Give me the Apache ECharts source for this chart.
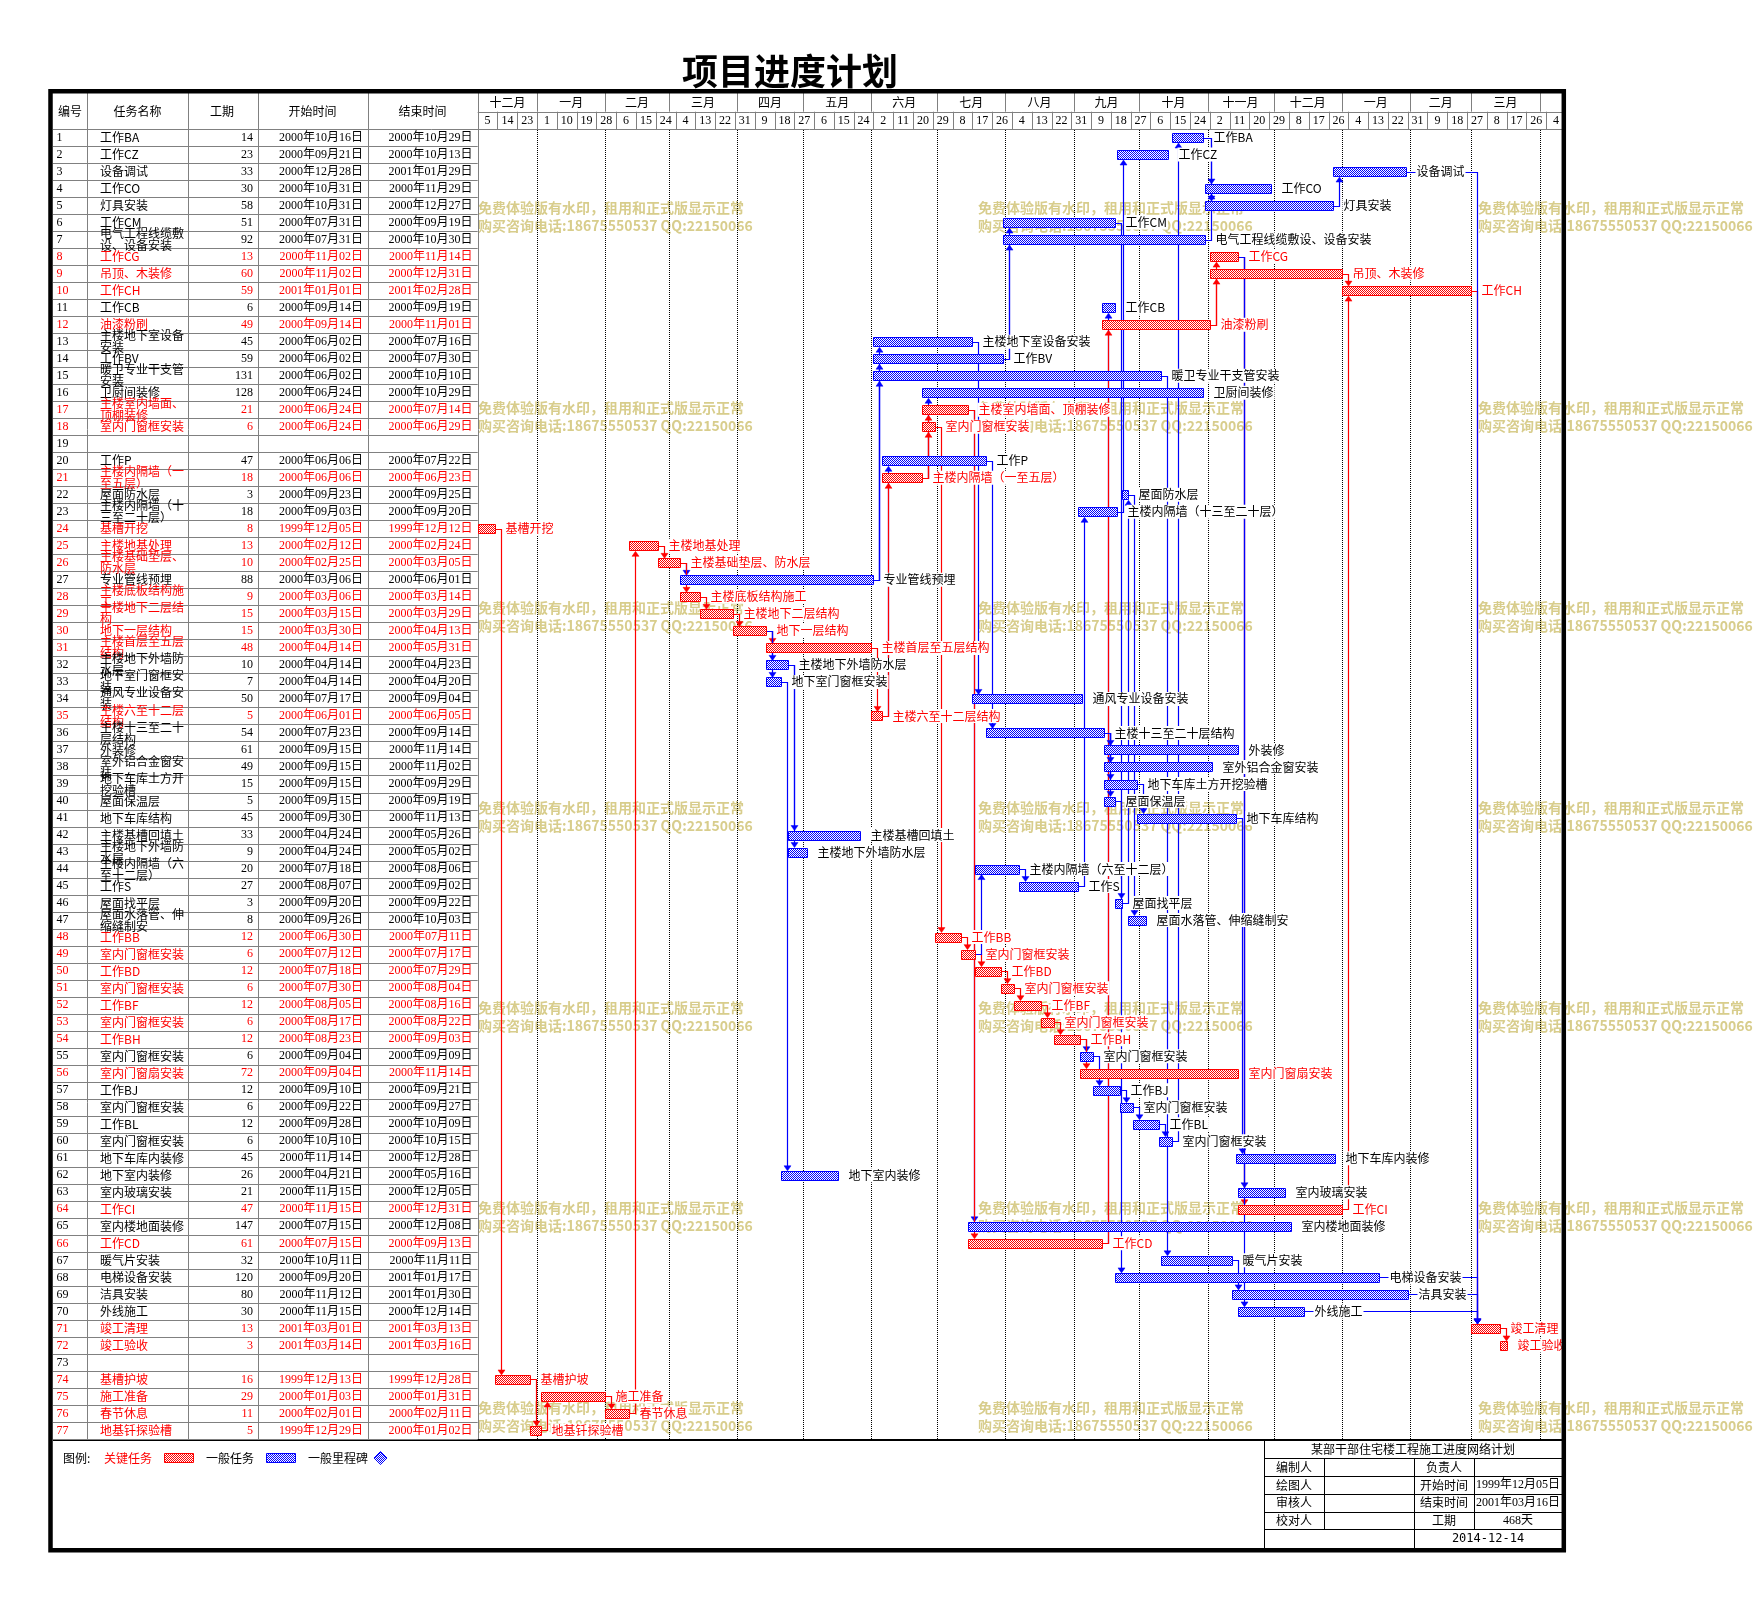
<!DOCTYPE html>
<html><head><meta charset="utf-8">
<script src="https://cdn.jsdelivr.net/npm/echarts@6/dist/echarts.min.js"></script>
<style>html,body{margin:0;padding:0;background:#fff}#c{width:1761px;height:1600px}</style>
</head><body><div id="c"></div>
<script>
// ---------------- DATA ----------------
const ids = Array.from({length:77},(_,i)=>i+1);
const names = ['工作BA','工作CZ','设备调试','工作CO','灯具安装','工作CM','电气工程线缆敷设、设备安装','工作CG','吊顶、木装修','工作CH',
'工作CB','油漆粉刷','主楼地下室设备安装','工作BV','暖卫专业干支管安装','卫厨间装修','主楼室内墙面、顶棚装修','室内门窗框安装','','工作P',
'主楼内隔墙（一至五层）','屋面防水层','主楼内隔墙（十三至二十层）','基槽开挖','主楼地基处理','主楼基础垫层、防水层','专业管线预埋','主楼底板结构施工','主楼地下二层结构','地下一层结构',
'主楼首层至五层结构','主楼地下外墙防水层','地下室门窗框安装','通风专业设备安装','主楼六至十二层结构','主楼十三至二十层结构','外装修','室外铝合金窗安装','地下车库土方开挖验槽','屋面保温层',
'地下车库结构','主楼基槽回填土','主楼地下外墙防水层','主楼内隔墙（六至十二层）','工作S','屋面找平层','屋面水落管、伸缩缝制安','工作BB','室内门窗框安装','工作BD',
'室内门窗框安装','工作BF','室内门窗框安装','工作BH','室内门窗框安装','室内门窗扇安装','工作BJ','室内门窗框安装','工作BL','室内门窗框安装',
'地下车库内装修','地下室内装修','室内玻璃安装','工作CI','室内楼地面装修','工作CD','暖气片安装','电梯设备安装','洁具安装','外线施工',
'竣工清理','竣工验收','','基槽护坡','施工准备','春节休息','地基钎探验槽'];
const durations = [14,23,33,30,58,51,92,13,60,59, 6,49,45,59,131,128,21,6,null,47, 18,3,18,8,13,10,88,9,15,15,
 48,10,7,50,5,54,61,49,15,5, 45,33,9,20,27,3,8,12,6,12, 6,12,6,12,6,72,12,6,12,6, 45,26,21,47,147,61,32,120,80,30, 13,3,null,16,29,11,5];
const starts = ['2000-10-16','2000-09-21','2000-12-28','2000-10-31','2000-10-31','2000-07-31','2000-07-31','2000-11-02','2000-11-02','2001-01-01',
'2000-09-14','2000-09-14','2000-06-02','2000-06-02','2000-06-02','2000-06-24','2000-06-24','2000-06-24',null,'2000-06-06',
'2000-06-06','2000-09-23','2000-09-03','1999-12-05','2000-02-12','2000-02-25','2000-03-06','2000-03-06','2000-03-15','2000-03-30',
'2000-04-14','2000-04-14','2000-04-14','2000-07-17','2000-06-01','2000-07-23','2000-09-15','2000-09-15','2000-09-15','2000-09-15',
'2000-09-30','2000-04-24','2000-04-24','2000-07-18','2000-08-07','2000-09-20','2000-09-26','2000-06-30','2000-07-12','2000-07-18',
'2000-07-30','2000-08-05','2000-08-17','2000-08-23','2000-09-04','2000-09-04','2000-09-10','2000-09-22','2000-09-28','2000-10-10',
'2000-11-14','2000-04-21','2000-11-15','2000-11-15','2000-07-15','2000-07-15','2000-10-11','2000-09-20','2000-11-12','2000-11-15',
'2001-03-01','2001-03-14',null,'1999-12-13','2000-01-03','2000-02-01','1999-12-29'];
const ends = ['2000-10-29','2000-10-13','2001-01-29','2000-11-29','2000-12-27','2000-09-19','2000-10-30','2000-11-14','2000-12-31','2001-02-28',
'2000-09-19','2000-11-01','2000-07-16','2000-07-30','2000-10-10','2000-10-29','2000-07-14','2000-06-29',null,'2000-07-22',
'2000-06-23','2000-09-25','2000-09-20','1999-12-12','2000-02-24','2000-03-05','2000-06-01','2000-03-14','2000-03-29','2000-04-13',
'2000-05-31','2000-04-23','2000-04-20','2000-09-04','2000-06-05','2000-09-14','2000-11-14','2000-11-02','2000-09-29','2000-09-19',
'2000-11-13','2000-05-26','2000-05-02','2000-08-06','2000-09-02','2000-09-22','2000-10-03','2000-07-11','2000-07-17','2000-07-29',
'2000-08-04','2000-08-16','2000-08-22','2000-09-03','2000-09-09','2000-11-14','2000-09-21','2000-09-27','2000-10-09','2000-10-15',
'2000-12-28','2000-05-16','2000-12-05','2000-12-31','2000-12-08','2000-09-13','2000-11-11','2001-01-17','2001-01-30','2000-12-14',
'2001-03-13','2001-03-16',null,'1999-12-28','2000-01-31','2000-02-11','2000-01-02'];
const criticalRows = [8,9,10,12,17,18,21,24,25,26,28,29,30,31,35,48,49,50,51,52,53,54,56,64,66,71,72,74,75,76,77];
const links = [[24,74],[74,77],[77,75],[75,76],[76,25],[25,26],[26,27],[26,28],[28,29],[29,30],[30,31],[30,32],[30,33],
[32,42],[32,43],[33,62],[31,35],[27,13],[27,14],[27,15],[35,20],[35,21],[21,16],[21,17],[21,18],[18,48],[48,49],[17,65],[17,66],
[13,34],[49,50],[49,44],[20,36],[14,6],[14,7],[50,51],[51,52],[44,45],[52,53],[53,54],[45,23],[54,55],[54,56],[55,57],[66,11],[66,12],
[36,37],[36,38],[36,39],[36,40],[40,46],[57,58],[46,22],[22,47],[58,59],[39,41],[59,60],[15,67],[60,1],[23,2],[6,68],[1,4],[1,5],[7,4],
[12,8],[12,9],[8,63],[8,64],[8,70],[67,69],[41,61],[5,3],[9,10],[64,10],[10,71],[71,72],[3,71],[68,71],[69,71],[70,71]];
const monthNames = ['一月','二月','三月','四月','五月','六月','七月','八月','九月','十月','十一月','十二月'];
const axisStart = '1999-12-05', axisEnd = '2001-04-13';
const tableHeaders = ['编号','任务名称','工期','开始时间','结束时间'];
const legendTexts = ['图例:','关键任务','一般任务','一般里程碑'];
const blockTitle = '某部干部住宅楼工程施工进度网络计划';
const blockLeftLabels = ['编制人','绘图人','审核人','校对人'];
const blockRightLabels = ['负责人','开始时间','结束时间','工期'];
const blockRightValues = ['','1999年12月05日','2001年03月16日','468天'];
const blockDate = '2014-12-14';
const watermarkLines = ['免费体验版有水印，租用和正式版显示正常','购买咨询电话:18675550537 QQ:22150066'];

// ---------------- HELPERS ----------------
const DAY0 = Date.UTC(2000,0,1);
function dayOf(s){const [y,m,d]=s.split('-').map(Number);return (Date.UTC(y,m-1,d)-DAY0)/86400000;}
function fmtDate(s){const [y,m,d]=s.split('-');return y+'年'+m+'月'+d+'日';}
const xMin = dayOf(axisStart), xMax = dayOf(axisEnd);
const isCrit = i => criticalRows.indexOf(i+1) >= 0;
const F = '12px "Liberation Serif","Noto Sans CJK SC",serif';
const FC = '12px "Noto Sans CJK SC",sans-serif';
const RED='#ff0000', BLUE='#0000ff', GRAY='#808080';
function makePat(color){const c=document.createElement('canvas');c.width=2;c.height=2;const g=c.getContext('2d');
 g.fillStyle='#fff';g.fillRect(0,0,2,2);g.fillStyle=color;g.fillRect(0,0,1,1);g.fillRect(1,1,1,1);return {type:'pattern',image:c,repeat:'repeat'};}
const redPat = makePat(RED), bluePat = makePat(BLUE);
const h = v => Math.round(v)+0.5;

// layout
const GL=477.7, GT=129, GW=1088.3, GH=1310, GB=GT+GH;
const TL=53, colX=[87.3,187.7,257.7,367.7];
const Y_MONTH_TOP=93, Y_MONTH_BOT=111.7;

// months
const months=[];
for(let y=1999,m=12;;){const s=dayOf(y+'-'+String(m).padStart(2,'0')+'-01');
 let ny=m===12?y+1:y, nm=m===12?1:m+1; const e=dayOf(ny+'-'+String(nm).padStart(2,'0')+'-01');
 if(s>=xMax)break; months.push([Math.max(s,xMin),0,Math.min(e,xMax),m-1,s]); y=ny;m=nm;}
const ticks=[]; for(let t=xMin;t<xMax;t+=9){ticks.push([t,0]);}
const tickLabel = t => new Date(DAY0+t*86400000).getUTCDate();

// bars
const barData=[]; starts.forEach((s,i)=>{if(s)barData.push([dayOf(s),i,dayOf(ends[i])+1]);});
const linkData = links.map(([a,b])=>[dayOf(ends[a-1])+1,a-1,dayOf(starts[b-1]),b-1]);

// ---------------- RENDERERS ----------------
function renderTable(params, api){
  const i=api.value(1); const yc=api.coord([xMin,i])[1]; const bh=api.size([0,1])[1];
  const col=isCrit(i)?RED:'#000'; const ch=[];
  ch.push({type:'line',shape:{x1:TL,y1:h(yc+bh/2),x2:GL,y2:h(yc+bh/2)},style:{stroke:GRAY,lineWidth:1}});
  ch.push({type:'text',style:{text:String(ids[i]),x:56.5,y:yc,align:'left',verticalAlign:'middle',fill:col,font:F}});
  if(names[i]) ch.push({type:'text',style:{text:names[i],x:100,y:yc,width:88,overflow:'break',lineHeight:12,align:'left',verticalAlign:'middle',fill:col,font:FC}});
  if(durations[i]!=null) ch.push({type:'text',style:{text:String(durations[i]),x:253,y:yc,align:'right',verticalAlign:'middle',fill:col,font:F}});
  if(starts[i]) ch.push({type:'text',style:{text:fmtDate(starts[i]),x:363,y:yc,align:'right',verticalAlign:'middle',fill:col,font:F}});
  if(ends[i]) ch.push({type:'text',style:{text:fmtDate(ends[i]),x:472.5,y:yc,align:'right',verticalAlign:'middle',fill:col,font:F}});
  return {type:'group',children:ch};
}
function renderMonth(params, api){
  const s=api.value(0), e=api.value(2), mi=api.value(3), real=api.value(4);
  const xs=api.coord([s,0])[0], xe=api.coord([e,0])[0]; const ch=[];
  if(real>=xMin && s>xMin){
    ch.push({type:'line',shape:{x1:h(xs),y1:Y_MONTH_TOP,x2:h(xs),y2:Y_MONTH_BOT},style:{stroke:GRAY,lineWidth:1}});
    ch.push({type:'line',shape:{x1:h(xs),y1:GT+1,x2:h(xs),y2:GB},style:{stroke:'#000',lineWidth:1,lineDash:[1,1]}});
  }
  if(xe-xs>30) ch.push({type:'text',style:{text:monthNames[mi],x:(xs+xe)/2,y:(Y_MONTH_TOP+Y_MONTH_BOT)/2+0.5,align:'center',verticalAlign:'middle',fill:'#000',font:FC}});
  return {type:'group',children:ch};
}
function renderTick(params, api){
  const t=api.value(0); const x=api.coord([t,0])[0]; const xc=api.coord([Math.min(t+4.5,xMax),0])[0]; const ch=[];
  if(t>xMin) ch.push({type:'line',shape:{x1:h(x),y1:Y_MONTH_BOT,x2:h(x),y2:GT},style:{stroke:GRAY,lineWidth:1}});
  ch.push({type:'text',style:{text:String(tickLabel(t)),x:xc,y:(Y_MONTH_BOT+GT)/2+0.5,align:'center',verticalAlign:'middle',fill:'#000',font:F}});
  return {type:'group',children:ch};
}
function renderBar(params, api){
  const s=api.value(0), i=api.value(1), e=api.value(2);
  const p0=api.coord([s,i]), p1=api.coord([e,i]); const crit=isCrit(i); const y=p0[1];
  const x0=h(p0[0]), x1=h(p1[0]);
  return {type:'group',children:[
    {type:'rect',z2:5,shape:{x:x0,y:h(y-4.5),width:x1-x0,height:9},style:{fill:crit?redPat:bluePat,stroke:crit?RED:BLUE,lineWidth:1}},
    {type:'text',z2:10,style:{text:names[i],x:x1+9,y:y,align:'left',verticalAlign:'middle',fill:crit?RED:'#000',font:FC,backgroundColor:'#fff',padding:[1,1]}}
  ]};
}
function renderLink(params, api){
  const xe=api.value(0), a=api.value(1), xs=api.value(2), b=api.value(3);
  const pA=api.coord([xe,a]), pB=api.coord([xs,b]);
  const col=(isCrit(a)&&isCrit(b))?RED:BLUE;
  const vx=h(pB[0]+6); const ya=h(pA[1]); const down=pB[1]>pA[1];
  const yt=down?pB[1]-4.5:pB[1]+5.5;
  const tri=down?[[vx-3.5,yt-5],[vx+3.5,yt-5],[vx,yt]]:[[vx-3.5,yt+5],[vx+3.5,yt+5],[vx,yt]];
  return {type:'group',children:[
    {type:'polyline',shape:{points:[[pA[0],ya],[vx,ya],[vx,down?yt-4:yt+4]]},style:{stroke:col,lineWidth:1.2,fill:null}},
    {type:'polygon',shape:{points:tri},style:{fill:col,stroke:col,lineWidth:0.5}}
  ]};
}

// ---------------- STATIC GRAPHICS ----------------
const g=[];
// watermark
[478,978,1478].forEach(x=>{for(let k=0;k<7;k++){watermarkLines.forEach((t,j)=>{
  g.push({type:'text',z:-5,silent:true,style:{text:t,x:x,y:208+200*k+18*j,align:'left',verticalAlign:'middle',fill:'#d8cd8c',font:'bold 14px "Noto Sans CJK SC",sans-serif'}});});}});
// table vertical lines
colX.concat([GL]).forEach(x=>g.push({type:'line',shape:{x1:h(x),y1:Y_MONTH_TOP,x2:h(x),y2:GB},style:{stroke:GRAY,lineWidth:1}}));
g.push({type:'line',shape:{x1:TL,y1:h(GT),x2:GL+GW,y2:h(GT)},style:{stroke:GRAY,lineWidth:1}});
g.push({type:'line',shape:{x1:GL,y1:h(Y_MONTH_BOT),x2:GL+GW,y2:h(Y_MONTH_BOT)},style:{stroke:GRAY,lineWidth:1}});
// table headers
const hdrX=[70,137.5,222,312.5,422.5];
tableHeaders.forEach((t,k)=>g.push({type:'text',style:{text:t,x:hdrX[k],y:111.5,align:'center',verticalAlign:'middle',fill:'#000',font:FC}}));
// bottom separator
g.push({type:'line',shape:{x1:TL,y1:1440,x2:1564,y2:1440},style:{stroke:'#000',lineWidth:2}});
// legend
g.push({type:'text',style:{text:legendTexts[0],x:63,y:1458,verticalAlign:'middle',fill:'#000',font:FC}});
g.push({type:'text',style:{text:legendTexts[1],x:104,y:1458,verticalAlign:'middle',fill:RED,font:FC}});
g.push({type:'rect',shape:{x:164.5,y:1453.5,width:29,height:9},style:{fill:redPat,stroke:RED,lineWidth:1}});
g.push({type:'text',style:{text:legendTexts[2],x:206,y:1458,verticalAlign:'middle',fill:'#000',font:FC}});
g.push({type:'rect',shape:{x:266.5,y:1453.5,width:29,height:9},style:{fill:bluePat,stroke:BLUE,lineWidth:1}});
g.push({type:'text',style:{text:legendTexts[3],x:308,y:1458,verticalAlign:'middle',fill:'#000',font:FC}});
g.push({type:'polygon',shape:{points:[[380.5,1451.5],[387,1458],[380.5,1464.5],[374,1458]]},style:{fill:bluePat,stroke:BLUE,lineWidth:1}});
// title block
const BX0=1264,BX1=1562, rowsY=[1439,1458.3,1476,1494,1511.7,1529.3,1548];
g.push({type:'line',shape:{x1:h(BX0),y1:1439,x2:h(BX0),y2:1548},style:{stroke:'#000',lineWidth:1}});
rowsY.slice(1,6).forEach(y=>g.push({type:'line',shape:{x1:BX0,y1:h(y),x2:BX1,y2:h(y)},style:{stroke:'#000',lineWidth:1}}));
[[1324,1458.3,1529.3],[1414.3,1458.3,1548],[1474,1458.3,1529.3]].forEach(([x,y1,y2])=>g.push({type:'line',shape:{x1:h(x),y1:y1,x2:h(x),y2:y2},style:{stroke:'#000',lineWidth:1}}));
g.push({type:'text',style:{text:blockTitle,x:1413,y:1449,align:'center',verticalAlign:'middle',fill:'#000',font:FC}});
for(let k=0;k<4;k++){const yc=(rowsY[k+1]+rowsY[k+2])/2;
  g.push({type:'text',style:{text:blockLeftLabels[k],x:1294,y:yc,align:'center',verticalAlign:'middle',fill:'#000',font:FC}});
  g.push({type:'text',style:{text:blockRightLabels[k],x:1444,y:yc,align:'center',verticalAlign:'middle',fill:'#000',font:FC}});
  if(blockRightValues[k]) g.push({type:'text',style:{text:blockRightValues[k],x:1518,y:yc,align:'center',verticalAlign:'middle',fill:'#000',font:F}});}
g.push({type:'text',style:{text:blockDate,x:1488,y:1539,align:'center',verticalAlign:'middle',fill:'#000',font:'12px "DejaVu Sans Mono",monospace'}});
// frame
g.push({type:'rect',z:100,shape:{x:50.5,y:91.3,width:1513.3,height:1459},style:{fill:null,stroke:'#000',lineWidth:4.5}});

const chart = echarts.init(document.getElementById('c'));
chart.setOption({
  animation:false, backgroundColor:'#fff',
  title:{text:'项目进度计划',left:677,top:48,textStyle:{fontSize:36,fontWeight:'bold',color:'#000',fontFamily:'"Noto Sans CJK SC"'}},
  grid:{left:GL,top:GT,width:GW,height:GH,show:false},
  xAxis:{type:'value',min:xMin,max:xMax,show:false},
  yAxis:{type:'category',data:ids.map(String),inverse:true,show:false},
  graphic:g,
  series:[
    {type:'custom',name:'table',z:3,clip:false,silent:true,renderItem:renderTable,encode:{x:0,y:1},data:ids.map((_,i)=>[xMin,i])},
    {type:'custom',name:'months',z:1,clip:false,silent:true,renderItem:renderMonth,encode:{x:[0,2],y:1},data:months},
    {type:'custom',name:'days',z:1,clip:false,silent:true,renderItem:renderTick,encode:{x:0,y:1},data:ticks},
    {type:'custom',name:'links',z:2,clip:false,silent:true,renderItem:renderLink,encode:{x:[0,2],y:[1,3]},data:linkData},
    {type:'custom',name:'bars',z:4,clip:false,silent:true,renderItem:renderBar,encode:{x:[0,2],y:1},data:barData}
  ]
});
</script></body></html>
